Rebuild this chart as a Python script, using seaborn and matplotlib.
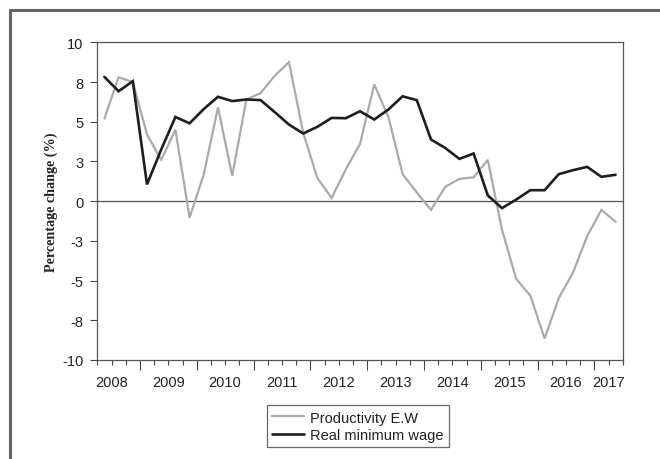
import numpy as np
import pandas as pd
import matplotlib
matplotlib.use("Agg")
import matplotlib.pyplot as plt
from matplotlib.lines import Line2D
from matplotlib.ticker import FixedLocator
import seaborn as sns

# ---- data (quarterly, 2008Q1 .. 2017Q1) ----
quarters = [f"{y}Q{q}" for y in range(2008, 2018) for q in range(1, 5)][:37]
productivity = [5.2, 7.8, 7.5, 4.2, 2.6, 4.5, -1.05, 1.7, 5.9, 1.6, 6.4, 6.8,
                7.9, 8.75, 4.3, 1.45, 0.2, 2.0, 3.6, 7.35, 5.3, 1.7, 0.55, -0.55,
                0.9, 1.4, 1.5, 2.6, -1.8, -4.9, -5.95, -8.65, -6.1, -4.5, -2.2,
                -0.55, -1.3]
min_wage = [7.82, 6.92, 7.55, 1.05, 3.25, 5.3, 4.9, 5.8, 6.57, 6.3, 6.4, 6.36,
            5.6, 4.82, 4.26, 4.68, 5.24, 5.22, 5.66, 5.14, 5.77, 6.6, 6.36, 3.88,
            3.35, 2.66, 3.0, 0.36, -0.44, 0.1, 0.69, 0.69, 1.7, 1.95, 2.16,
            1.53, 1.66]
year_labels = [str(y) for y in range(2008, 2018)]
y_ticks = [10, 7.5, 5, 2.5, 0, -2.5, -5, -7.5, -10]
y_tick_labels = ["10", "8", "5", "3", "0", "-3", "-5", "-8", "-10"]
series_names = ["Productivity E.W", "Real minimum wage"]

df = pd.DataFrame({"idx": np.arange(len(quarters)),
                   series_names[0]: productivity,
                   series_names[1]: min_wage})
long = df.melt(id_vars="idx", var_name="series", value_name="value")

sns.set_theme(style="white")
plt.rcParams["font.family"] = ["Liberation Sans", "DejaVu Sans"]

fig = plt.figure(figsize=(6.6, 4.6), dpi=100)
ax = fig.add_axes([97.3 / 660, 1 - 361 / 460, (622.7 - 97.3) / 660, (361 - 43.3) / 460])

sns.lineplot(data=long, x="idx", y="value", hue="series",
             palette={series_names[0]: "#aaaaaa", series_names[1]: "#1e1e1e"},
             ax=ax, legend=False, sort=False)
for ln, lw in zip(ax.lines, [1.6, 1.9]):
    ln.set_linewidth(lw)
    ln.set_solid_joinstyle("miter")

ax.axhline(0, color="#555555", lw=0.9, zorder=1)

n = len(quarters)
ax.set_xlim(-0.5, n - 0.5)
ax.set_ylim(-10, 10)

# y axis
ax.set_yticks(y_ticks)
ax.set_yticklabels(y_tick_labels)
ax.tick_params(axis="y", which="major", left=True, length=5, width=0.8,
               color="#444444", pad=5, labelsize=10.5, labelcolor="#222222")

# x axis: quarter boundary ticks (minor), year boundary ticks (major)
bounds = np.arange(n + 1) - 0.5
major = [b for k, b in enumerate(bounds) if k % 4 == 3]
minor = [b for k, b in enumerate(bounds) if k % 4 != 3]
ax.xaxis.set_major_locator(FixedLocator(major))
ax.xaxis.set_minor_locator(FixedLocator(minor))
ax.set_xticklabels([])
ax.tick_params(axis="x", which="major", bottom=True, length=7, width=0.8, color="#444444")
ax.tick_params(axis="x", which="minor", bottom=True, length=3.5, width=0.8, color="#444444")

# year labels on a secondary axis
label_pos = [0.5 + 4 * k for k in range(len(year_labels))]
label_pos[-1] = n - 1.5
sec = ax.secondary_xaxis("bottom")
sec.set_xticks(label_pos)
sec.set_xticklabels(year_labels)
sec.tick_params(axis="x", length=0, pad=11, labelsize=10.5, labelcolor="#222222")
sec.spines["bottom"].set_visible(False)

for s in ax.spines.values():
    s.set_visible(True)
    s.set_color("#555555")
    s.set_linewidth(0.9)

ax.set_xlabel("")
ax.set_ylabel("Percentage change (%)", family=["Liberation Serif", "DejaVu Serif"],
              fontweight="bold", fontsize=10.2, color="#222222", labelpad=3)

handles = [Line2D([], [], color="#aaaaaa", lw=1.6), Line2D([], [], color="#1e1e1e", lw=1.9)]
leg = fig.legend(handles, series_names, loc="center", bbox_to_anchor=(0.542, 0.071),
                 fontsize=10.5, frameon=True, fancybox=False, handlelength=2.2,
                 handletextpad=0.4, labelspacing=0.25, borderpad=0.35)
leg.get_frame().set_edgecolor("#444444")
leg.get_frame().set_linewidth(0.9)
for t in leg.get_texts():
    t.set_color("#222222")

# outer frame (partially visible: left and top edges)
fx = 9.5 / 660
fy = 1 - 10.5 / 460
fig.add_artist(Line2D([fx, fx], [0, fy], transform=fig.transFigure, color="#666666", lw=2.2))
fig.add_artist(Line2D([fx, 1], [fy, fy], transform=fig.transFigure, color="#666666", lw=2.2))

fig.savefig("out.png", dpi=100)
